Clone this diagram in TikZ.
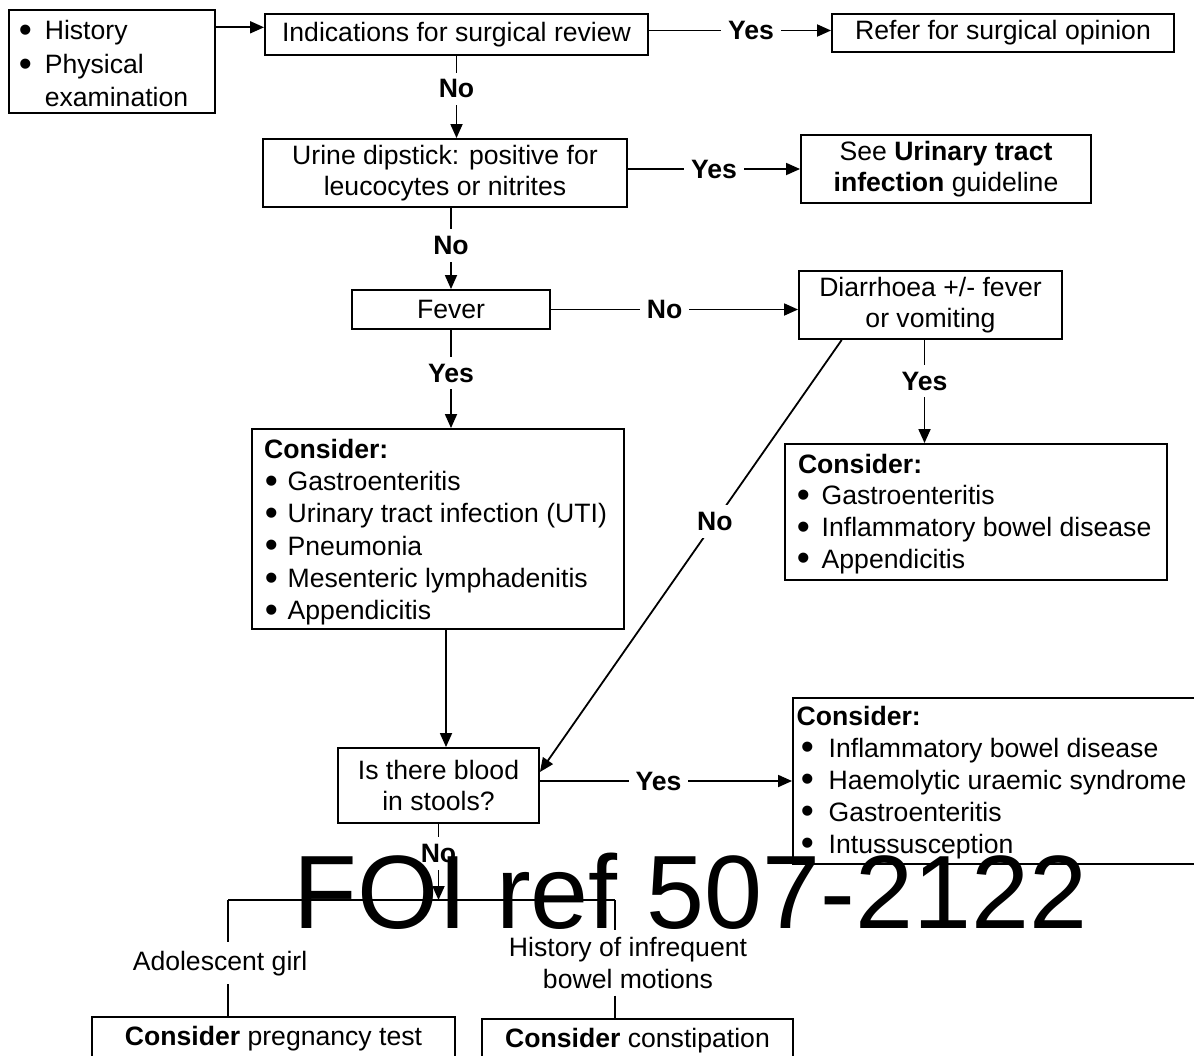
\documentclass[tikz,border=0pt]{standalone}
\usepackage{fontspec}
\setmainfont{Liberation Sans}
\usetikzlibrary{arrows.meta,calc}
\newcommand\dgfont{\fontsize{26.6}{31}\selectfont}
\newcommand\bigbul{\raisebox{-2.8pt}{\scalebox{1.4}{\textbullet}}}
\newcommand\bl[2]{\hbox to #2pt{\hskip #1pt\hskip -1.6pt\bigbul\hss}}
\newcommand\ind[1]{\hbox to #1pt{\hss}}
\begin{document}
\begin{tikzpicture}[x=1pt,y=-1pt,
  box/.style={draw, line width=1.9pt, inner sep=0pt, align=center, font=\dgfont},
  txt/.style={inner sep=0pt, align=left},
  conn/.style={line width=1.8pt},
  arr/.style={conn, -{Triangle[length=14pt,width=12pt]}},
  lbl/.style={fill=white, font=\dgfont\bfseries, inner sep=7pt}]
\fill[white] (0,0) rectangle (1194,1055);
\useasboundingbox (0,0) rectangle (1194,1055);
\clip (0,0) rectangle (1194,1055);

% boxes
\node[box, minimum width=206, minimum height=103] (hist) at (112,61.5) {};
\node[txt, anchor=north west, font=\fontsize{26.6}{33.5}\selectfont] (histt) at (20.3,20.3)
  {\bl{0}{24.3}History\\\bl{0}{24.3}Physical\\\ind{24.3}examination};
\node[box, minimum width=383, minimum height=41] (ind) at (456.5,34.5) {Indications for surgical review};
\node[box, minimum width=342, minimum height=38] (refer) at (1003,33) {Refer for surgical opinion};
\node[box, minimum width=364, minimum height=68] (urine) at (445,173) {Urine dipstick: positive for\\leucocytes or nitrites};
\node[box, minimum width=290, minimum height=68] (uti) at (946,169) {See \textbf{Urinary tract}\\\textbf{infection} guideline};
\node[box, minimum width=198, minimum height=39] (fever) at (451,309.5) {Fever};
\node[box, minimum width=263, minimum height=68] (diar) at (930.5,305) {Diarrhoea +/- fever\\or vomiting};

\node[box, minimum width=372, minimum height=200] (c1) at (438,529) {};
\node[txt, anchor=north west, font=\fontsize{26.6}{32.3}\selectfont] (c1t) at (264,438.7)
  {\textbf{Consider:}\\\bl{2.3}{23.5}Gastroenteritis\\\bl{2.3}{23.5}Urinary tract infection (UTI)\\\bl{2.3}{23.5}Pneumonia\\\bl{2.3}{23.5}Mesenteric lymphadenitis\\\bl{2.3}{23.5}Appendicitis};

\node[box, minimum width=382, minimum height=136] (c2) at (976,512) {};
\node[txt, anchor=north west, font=\fontsize{26.6}{31.7}\selectfont] (c2t) at (797.8,453.6)
  {\textbf{Consider:}\\\bl{0.5}{23.7}Gastroenteritis\\\bl{0.5}{23.7}Inflammatory bowel disease\\\bl{0.5}{23.7}Appendicitis};

\node[box, minimum width=201, minimum height=75] (blood) at (438.5,785.5) {Is there blood\\in stools?};

\node[box, minimum width=467, minimum height=166] (c3) at (1026.5,781) {};
\node[txt, anchor=north west, font=\fontsize{26.6}{32}\selectfont] (c3t) at (796.5,705.6)
  {\textbf{Consider:}\\\bl{5.8}{32}Inflammatory bowel disease\\\bl{5.8}{32}Haemolytic uraemic syndrome\\\bl{5.8}{32}Gastroenteritis\\\bl{5.8}{32}Intussusception};

\node[box, minimum width=363, minimum height=93] (preg) at (273.5,1063.5) {};
\node[txt, anchor=base, font=\dgfont] (pregt) at (273.5,1045) {\textbf{Consider} pregnancy test};
\node[box, minimum width=311, minimum height=91] (cons) at (637.5,1064.5) {};
\node[txt, anchor=base, font=\dgfont] (const) at (637.5,1047) {\textbf{Consider} constipation};

\node[anchor=base, inner xsep=0pt, inner ysep=8.6pt, font=\dgfont] (adol) at (220,970) {Adolescent girl};
\node[anchor=north, inner xsep=0pt, inner ysep=7pt, align=center, font=\fontsize{26.6}{31.6}\selectfont] (hist2) at (628,930) {History of infrequent\\bowel motions};

% connectors
\coordinate (hi) at ([yshift=7.2]ind.west);
\draw[arr] (hi -| hist.east) -- (hi);
\coordinate (ir) at ([yshift=4]ind.east);
\draw[arr] (ir) -- node[lbl, pos=0.56] {Yes} (ir -| refer.west);
\draw[arr] (ind.south) -- node[lbl, pos=0.4] {No} (ind.south |- urine.north);
\draw[arr] (urine.east |- uti.west) -- node[lbl, pos=0.5] {Yes} (uti.west);
\draw[arr] (fever.north |- urine.south) -- node[lbl, pos=0.46] {No} (fever.north);
\draw[arr] (fever.east) -- node[lbl, pos=0.46] {No} (fever.east -| diar.west);
\draw[arr] (fever.south) -- node[lbl, pos=0.44] {Yes} (fever.south |- c1.north);
\coordinate (d2) at ([xshift=-6]diar.south);
\draw[arr] (d2) -- node[lbl, pos=0.4] {Yes} (d2 |- c2.north);
\coordinate (c1b) at ([xshift=8]c1.south);
\draw[arr] (c1b) -- (c1b |- blood.north);
\coordinate (dstart) at ([xshift=-88.8]diar.south);
\coordinate (dend) at ([yshift=13.5]blood.east);
\draw[arr] (dstart) -- node[lbl, pos=0.42] {No} (dend);
\draw[arr] (blood.east |- c3.west) -- node[lbl, pos=0.47] {Yes} (c3.west);

\coordinate (fk) at (blood.south |- 0,900);
\coordinate (fkL) at (228,900);
\coordinate (fkR) at (615,900);
\draw[arr] (blood.south) -- node[lbl, pos=0.39] {No} (fk);
\draw[conn] (fkL) -- (fkR);
\draw[conn] (fkL) -- (fkL |- adol.north);
\draw[conn] (fkL |- adol.south) -- (fkL |- preg.north);
\draw[conn] (fkR) -- (fkR |- hist2.north);
\draw[conn] (fkR |- hist2.south) -- (fkR |- cons.north);

% watermark
\node[anchor=base west, inner sep=0pt, font=\fontsize{104.3}{110}\selectfont] (foi) at (293.2,928) {FOI ref 507-2122};
\end{tikzpicture}
\end{document}
